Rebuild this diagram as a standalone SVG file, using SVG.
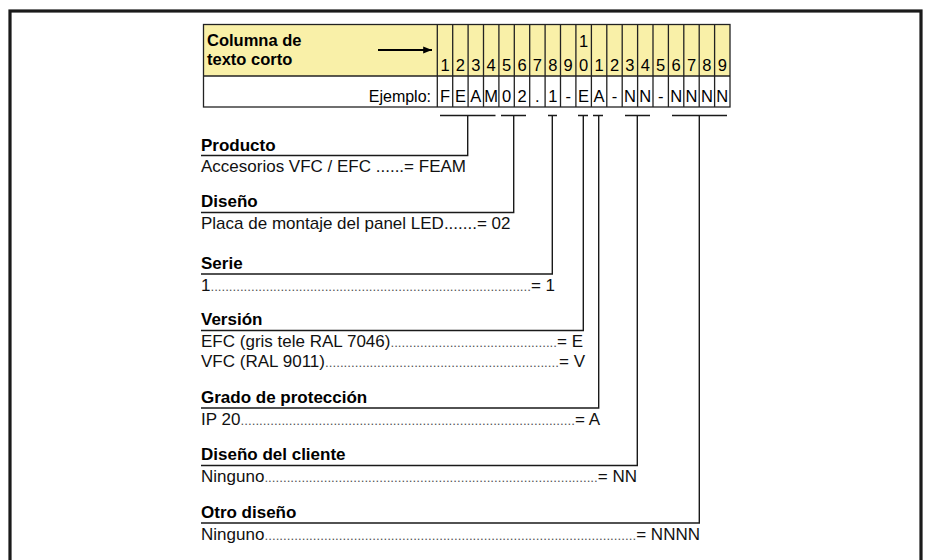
<svg xmlns="http://www.w3.org/2000/svg" width="928" height="560" viewBox="0 0 928 560">
<style>
.frame{fill:none;stroke:#1a1a1a;stroke-width:3.2}
.grid{fill:none;stroke:#222;stroke-width:1.3}
.ln{fill:none;stroke:#1a1a1a;stroke-width:1.4}
.hd{font-family:"Liberation Sans",Arial,sans-serif;font-weight:bold;font-size:16.5px;fill:#000}
.h{font-family:"Liberation Sans",Arial,sans-serif;font-weight:bold;font-size:17px;fill:#000}
.b{font-family:"Liberation Sans",Arial,sans-serif;font-size:17px;fill:#111}
.d{font-size:13.3px;fill:#555}
.c{font-family:"Liberation Sans",Arial,sans-serif;font-size:16.5px;fill:#000;text-anchor:middle}
.ex{font-family:"Liberation Sans",Arial,sans-serif;font-size:16px;fill:#000;text-anchor:end}
</style>
<defs>
<marker id="ah" viewBox="0 0 10 8" refX="10" refY="4" markerWidth="4" markerHeight="3.2" orient="auto" markerUnits="strokeWidth">
<path d="M0,0 L10,4 L0,8 Z" fill="#000"/>
</marker>
</defs>
<rect class="frame" x="10" y="11" width="911" height="570"/>

<g id="table">
<rect x="203.5" y="24.5" width="526.5" height="51.5" fill="#f9f0a8"/>
<rect x="203.5" y="76" width="526.5" height="31" fill="#fff"/>
<rect class="grid" x="203.5" y="24.5" width="526.5" height="82.5"/>
<line class="grid" x1="203.5" y1="76" x2="730" y2="76"/>
<path class="grid" d="M437.3 24.5V107M452.7 24.5V107M468.1 24.5V107M483.5 24.5V107M498.9 24.5V107M514.3 24.5V107M529.7 24.5V107M545.1 24.5V107M560.5 24.5V107M575.9 24.5V107M591.4 24.5V107M606.8 24.5V107M622.2 24.5V107M637.6 24.5V107M653 24.5V107M668.4 24.5V107M683.8 24.5V107M699.2 24.5V107M714.6 24.5V107"/>
<text class="hd" x="207" y="46">Columna de</text>
<text class="hd" x="207" y="65">texto corto</text>
<line x1="378" y1="50" x2="432" y2="50" stroke="#000" stroke-width="2.2" marker-end="url(#ah)"/>
<g class="c">
<text x="445" y="71">1</text><text x="460.4" y="71">2</text><text x="475.8" y="71">3</text><text x="491.2" y="71">4</text><text x="506.6" y="71">5</text><text x="522" y="71">6</text><text x="537.4" y="71">7</text><text x="552.8" y="71">8</text><text x="568.2" y="71">9</text><text x="583.6" y="47">1</text><text x="583.6" y="71">0</text><text x="599.1" y="71">1</text><text x="614.5" y="71">2</text><text x="629.9" y="71">3</text><text x="645.3" y="71">4</text><text x="660.7" y="71">5</text><text x="676.1" y="71">6</text><text x="691.5" y="71">7</text><text x="706.9" y="71">8</text><text x="722.3" y="71">9</text>
</g>
<text class="ex" x="431" y="102">Ejemplo:</text>
<g class="c">
<text x="445" y="102">F</text><text x="460.4" y="102">E</text><text x="475.8" y="102">A</text><text x="491.2" y="102">M</text><text x="506.6" y="102">0</text><text x="522" y="102">2</text><text x="537.4" y="102">.</text><text x="552.8" y="102">1</text><text x="568.2" y="102">-</text><text x="583.6" y="102">E</text><text x="599.1" y="102">A</text><text x="614.5" y="102">-</text><text x="629.9" y="102">N</text><text x="645.3" y="102">N</text><text x="660.7" y="102">-</text><text x="676.1" y="102">N</text><text x="691.5" y="102">N</text><text x="706.9" y="102">N</text><text x="722.3" y="102">N</text>
</g>
</g>

<g id="connectors" class="ln">
<path d="M440 115.5H495.5M501 115.5H526M548 115.5H557M578 115.5H588M593 115.5H603M625 115.5H650M672 115.5H727"/>
<path d="M467.7 115.5V155.5H201"/>
<path d="M513.7 115.5V212.5H201"/>
<path d="M552.3 115.5V274H201"/>
<path d="M583.3 115.5V330.5H201"/>
<path d="M598.7 115.5V408H201"/>
<path d="M637.3 115.5V465.5H201"/>
<path d="M699.3 115.5V523H201"/>
</g>

<g id="producto">
<text class="h" x="201" y="151">Producto</text>
<text class="b" x="201" y="172">Accesorios VFC / EFC ......= FEAM</text>
</g>
<g id="diseno">
<text class="h" x="201" y="207">Diseño</text>
<text class="b" x="201" y="229">Placa de montaje del panel LED.......= 02</text>
</g>
<g id="serie">
<text class="h" x="201" y="268.5">Serie</text>
<text class="b" x="201" y="290.5" textLength="354" lengthAdjust="spacing">1<tspan class="d">.......................................................................................</tspan>= 1</text>
</g>
<g id="version">
<text class="h" x="201" y="325">Versión</text>
<text class="b" x="201" y="347" textLength="382" lengthAdjust="spacing">EFC (gris tele RAL 7046)<tspan class="d">.............................................</tspan>= E</text>
<text class="b" x="201" y="367" textLength="384" lengthAdjust="spacing">VFC (RAL 9011)<tspan class="d">...............................................................</tspan>= V</text>
</g>
<g id="grado">
<text class="h" x="201" y="402.5">Grado de protección</text>
<text class="b" x="201" y="424.5" textLength="399" lengthAdjust="spacing">IP 20<tspan class="d">..........................................................................................</tspan>= A</text>
</g>
<g id="cliente">
<text class="h" x="201" y="460">Diseño del cliente</text>
<text class="b" x="201" y="482" textLength="436" lengthAdjust="spacing">Ninguno<tspan class="d">..........................................................................................</tspan>= NN</text>
</g>
<g id="otro">
<text class="h" x="201" y="517.5">Otro diseño</text>
<text class="b" x="201" y="539.5" textLength="499" lengthAdjust="spacing">Ninguno<tspan class="d">....................................................................................................</tspan>= NNNN</text>
</g>
</svg>
